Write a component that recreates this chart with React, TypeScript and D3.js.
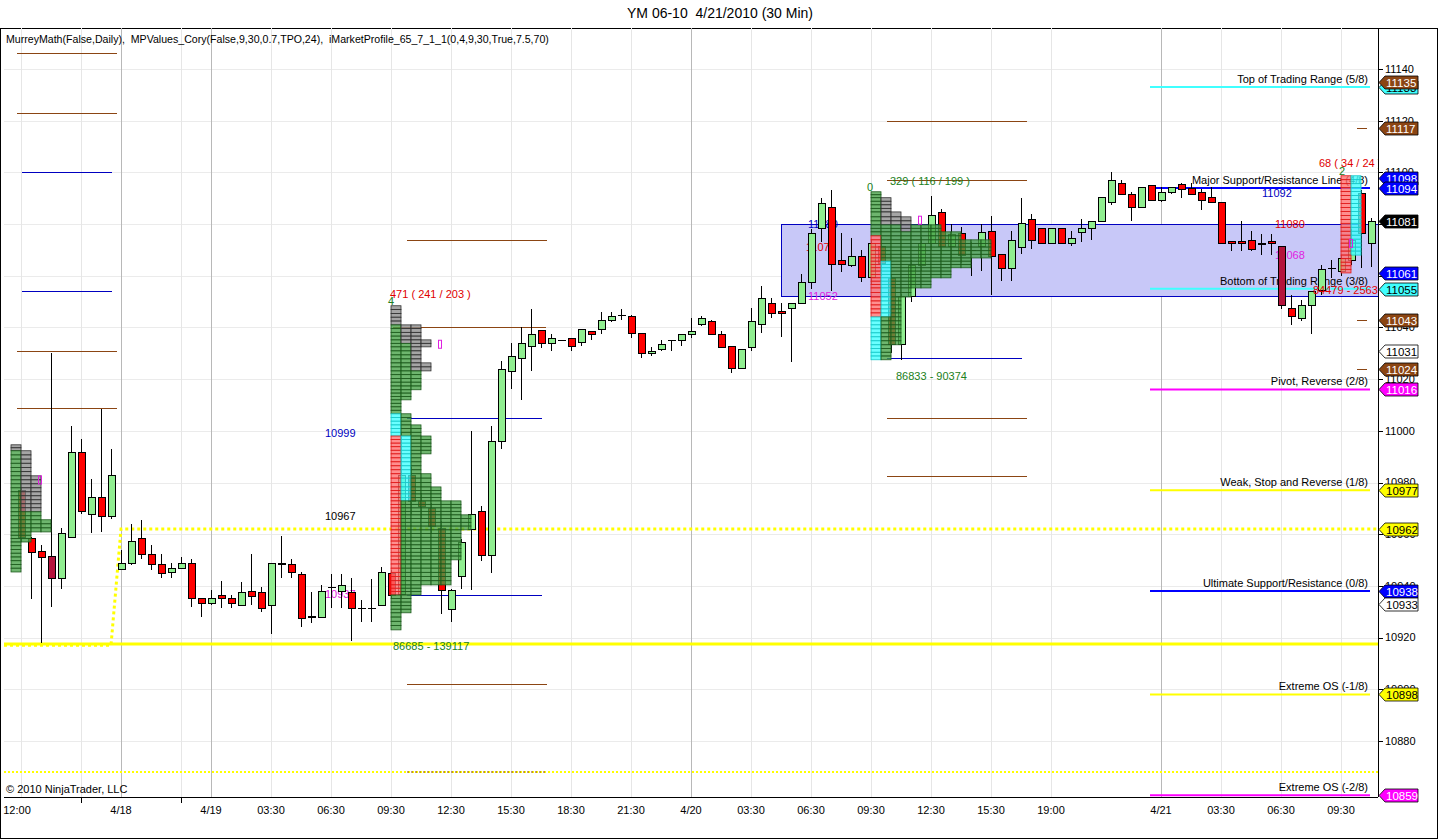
import React from "react";
import * as d3 from "d3";

/* DATA */
// 30 min bars: [open, high, low, close]
const bars: number[][] = [
  [10977, 10978, 10957, 10959], [10958.5, 10959, 10935, 10953], [10953.5, 10956, 10918, 10951],
  [10951.5, 11030, 10932, 10943], [10943, 10962.5, 10939, 10960.5], [10959, 11002, 10958.5, 10992],
  [10992, 10997, 10968, 10969], [10968, 10981.5, 10960.5, 10974.5], [10974.5, 11008.5, 10961, 10967],
  [10967, 10993, 10966, 10983], [10946.5, 10954, 10946, 10949], [10949, 10964, 10948, 10957.5],
  [10958.5, 10965.5, 10950.5, 10952.5], [10952.5, 10956, 10946, 10948.5], [10948.5, 10952.5, 10943, 10945],
  [10945.5, 10949, 10943, 10947], [10947, 10951, 10946.5, 10949], [10949, 10950.5, 10932, 10935.5],
  [10935.5, 10935.5, 10928, 10933.5], [10933.5, 10938.5, 10932.5, 10935.5], [10936.5, 10942, 10931.5, 10935.5],
  [10935.5, 10936.5, 10931.5, 10933.5], [10932.5, 10941.5, 10932.5, 10937.5], [10938, 10952.5, 10932.5, 10936],
  [10937.5, 10939.5, 10930, 10931.5], [10932.5, 10949, 10921.5, 10949], [10949, 10959.5, 10943, 10948.5],
  [10948.5, 10950.5, 10943, 10945.5], [10944.5, 10945.5, 10924, 10927.5], [10928.5, 10937.5, 10925.5, 10928],
  [10928, 10940.5, 10927.5, 10938], [10939.5, 10944.5, 10931.5, 10939.5], [10938, 10944.5, 10931.5, 10940.5],
  [10937.5, 10943, 10918.5, 10931.5], [10931.5, 10934.5, 10926, 10931.5], [10931.5, 10942.5, 10926, 10931.5],
  [10932.5, 10947.5, 10932.5, 10945.5], [10945, 10946, 10935, 10936.5], [10937, 10999, 10935, 10983],
  [10983, 10986, 10968, 10973], [10973, 10976, 10966, 10971], [10970, 10972, 10960, 10963],
  [10962.5, 10965, 10929, 10938.5], [10931, 10939, 10926, 10938.5], [10944, 10958, 10939, 10957],
  [10962, 11000, 10938.5, 10968], [10969, 10971, 10949.5, 10952], [10952, 11002, 10945, 10996],
  [10996, 11027, 10993, 11024], [11023, 11034, 11016, 11029], [11028, 11040, 11012, 11034],
  [11033, 11047, 11023, 11037.5], [11039, 11039, 11032, 11034], [11034, 11037.5, 11031, 11036],
  [11035, 11035, 11035, 11035], [11036, 11036, 11031, 11033], [11034.5, 11039.5, 11033, 11039.5],
  [11038.5, 11038.5, 11035, 11037.5], [11039.5, 11046, 11037.5, 11043], [11043, 11046, 11042, 11044.5],
  [11045, 11047, 11043, 11045], [11044.5, 11045, 11036, 11038], [11038, 11038, 11028, 11030],
  [11030, 11032.5, 11029, 11031], [11031.5, 11035, 11031, 11033.5], [11035, 11035, 11031, 11035],
  [11035, 11037.5, 11033, 11037.5], [11037.5, 11043.5, 11036, 11038.5], [11041.5, 11044.5, 11040.5, 11043.5],
  [11042.5, 11043, 11037, 11037.5], [11037.5, 11038.5, 11032, 11032.5], [11033, 11033, 11022.5, 11024.5],
  [11024.5, 11031.5, 11024.5, 11031.5], [11032.5, 11047.5, 11031, 11042.5], [11041.5, 11056, 11038, 11051.5],
  [11049.5, 11051.5, 11043.5, 11045.5], [11046.5, 11049.5, 11036.5, 11045.5], [11047.5, 11049.5, 11026.5, 11049.5],
  [11049.5, 11060.5, 11049, 11057.5], [11057.5, 11078, 11055, 11076.5], [11078.5, 11090, 11073, 11088],
  [11086.5, 11093, 11054, 11064.5], [11066, 11076.5, 11061.5, 11064.5], [11064, 11074.5, 11063.5, 11067.5],
  [11067.5, 11070, 11057.5, 11059.5], [11059.5, 11074, 11057, 11072.5], [11071.5, 11075, 11060, 11065],
  [11059, 11060.5, 11030, 11033.5], [11033.5, 11053, 11027.5, 11052], [11052, 11066, 11050, 11064],
  [11064, 11075, 11062, 11072.5], [11072.5, 11091, 11070, 11083.5], [11084.5, 11086, 11068, 11071.5],
  [11071.5, 11080, 11066, 11076], [11076.5, 11079, 11065, 11068], [11070, 11073, 11060, 11070],
  [11071.5, 11080, 11062, 11077], [11077.5, 11083, 11052.5, 11067.5], [11068.5, 11068.5, 11058, 11063],
  [11063, 11077.5, 11058, 11074], [11071, 11090, 11068.5, 11080.5], [11082, 11084, 11070.5, 11074],
  [11078.5, 11078.5, 11072.5, 11072.5], [11072.5, 11078.5, 11072.5, 11078.5], [11078.5, 11078.5, 11072.5, 11072.5],
  [11072.5, 11077.5, 11071.5, 11074.5], [11077, 11082, 11073, 11078.5], [11078.5, 11081, 11074, 11081],
  [11081, 11090.5, 11081, 11090.5], [11088.5, 11100, 11087.5, 11097], [11096, 11097, 11091.5, 11091.5],
  [11091.5, 11092.5, 11081, 11086.5], [11086.5, 11094.5, 11086.5, 11094.5], [11095, 11095, 11089.5, 11089.5],
  [11089.5, 11094.5, 11088.5, 11092.5], [11092.5, 11094.5, 11091.5, 11094.5], [11095.5, 11096, 11090, 11093.5],
  [11094, 11096, 11091.5, 11091.5], [11092.5, 11093.5, 11085.5, 11089.5], [11090.5, 11094.5, 11088.5, 11088.5],
  [11088.5, 11088.5, 11072.5, 11072.5], [11073.5, 11073.5, 11069.5, 11072.5], [11073.5, 11081, 11069.5, 11072.5],
  [11074, 11077.5, 11069.5, 11070.5], [11072.5, 11076, 11068, 11072.8], [11073.5, 11076, 11068, 11072.5],
  [11071.5, 11071.5, 11047, 11048.5], [11047.5, 11052.5, 11041, 11044.5], [11043.5, 11050.5, 11042.5, 11048.5],
  [11048.5, 11054, 11037.5, 11054], [11054.5, 11064, 11052.5, 11062.5], [11063, 11066, 11059, 11063],
  [11062, 11068, 11060, 11067], [11066, 11078, 11064, 11074], [11092, 11093, 11063, 11076.5],
  [11072.5, 11082.5, 11063.5, 11081],
];
const darkRedBars = [3, 126];

const xLabels: [number, string][] = [
  [0, "12:00"], [10, "4/18"], [19, "4/19"], [25, "03:30"], [31, "06:30"], [37, "09:30"],
  [43, "12:30"], [49, "15:30"], [55, "18:30"], [61, "21:30"], [67, "4/20"], [73, "03:30"],
  [79, "06:30"], [85, "09:30"], [91, "12:30"], [97, "15:30"], [103, "19:00"], [114, "4/21"],
  [120, "03:30"], [126, "06:30"], [132, "09:30"],
];
const dayStarts = [10, 19, 67, 114];
const minorTicks = [6, 16];
const yTicks = d3.range(10880, 11141, 20);

// daily lines: [fromBar, toBar, price, color]
const dayLines: [number, number, number, string][] = [
  [-0.4, 9.6, 11146, "brown"], [-0.4, 9.6, 11123, "brown"], [0.1, 9.1, 11100, "blue"],
  [0.1, 9.1, 11054, "blue"], [-0.4, 9.6, 11031, "brown"], [-0.4, 9.6, 11009, "brown"],
  [38.6, 52.6, 11074, "brown"], [37.2, 52.5, 11040, "brown"], [38.6, 52.1, 11005, "blue"],
  [38.6, 52.1, 10936.5, "blue"], [38.6, 52.6, 10902, "brown"],
  [86.6, 100.6, 11120, "brown"], [86.6, 100.6, 11097, "brown"], [86.6, 100.1, 11028, "blue"],
  [86.6, 100.6, 11005, "brown"], [86.6, 100.6, 10982.6, "brown"],
  [133.6, 134.6, 11117, "brown"], [133.6, 134.6, 11043, "brown"], [133.6, 134.6, 11024, "brown"],
];
const lineColors: Record<string, string> = { brown: "#8b4513", blue: "#0000c0" };

// MurreyMath levels for 4/21
const murrey: [number, string, string][] = [
  [11133, "#40ffff", "Top of Trading Range (5/8)"],
  [11094, "#0000ff", "Major Support/Resistance Line (4/8)"],
  [11055, "#40ffff", "Bottom of Trading Range (3/8)"],
  [11016, "#ff00ff", "Pivot, Reverse (2/8)"],
  [10977, "#ffff00", "Weak, Stop and Reverse (1/8)"],
  [10938, "#0000ff", "Ultimate Support/Resistance (0/8)"],
  [10898, "#ffff00", "Extreme OS (-1/8)"],
  [10859, "#ff00ff", "Extreme OS (-2/8)"],
];
const murreyFrom = 112.9;
const murreyTo = 134.9;

const pivotSteps = [
  { from: 0, to: 9, value: 10917 },
  { from: 10, to: 135, value: 10962 },
];
const solidYellow = 10917.5;
const dottedYellow = 10868;
const valueArea = { from: 76, top: 11080, bottom: 11052 };

// MPValues labels: [bar, price, text, color]
const mpLabels: [number, number, string, string][] = [
  [30.4, 10999, "10999", "#0000c0"], [30.4, 10967, "10967", "#000000"], [30.4, 10937, "10937", "#e020e0"],
  [78.7, 11080, "11080", "#0000c0"], [78.5, 11071, "11071", "#e00000"], [78.7, 11052, "11052", "#e020e0"],
  [124.1, 11092, "11092", "#0000c0"], [125.4, 11080, "11080", "#e00000"], [125.4, 11068, "11068", "#e020e0"],
];

// market profiles: start bar, rows [hi, lo, columns], coloured cells [col, lo, hi, kind]
const profiles = [
  {
    start: -1,
    rows: [[10994.6, 10992.3, 1], [10992.3, 10982.6, 2], [10982.6, 10965.6, 3], [10965.6, 10960.9, 4], [10960.9, 10957, 2], [10957, 10945.4, 1]],
    marks: [[0, 10992.3, 10994.6, "gray"], [1, 10968.3, 10992.3, "gray"], [2, 10968.3, 10982.6, "gray"]],
  },
  {
    start: 37,
    rows: [
      [11048.4, 11041, 1], [11041, 11035.2, 3], [11035.2, 11032.5, 4], [11032.5, 11026.3, 3], [11026.3, 11023.2, 4],
      [11023.2, 11015.9, 3], [11015.9, 11012, 2], [11012, 11006.6, 1], [11006.6, 11002.3, 2], [11002.3, 10998, 3],
      [10998, 10991.1, 4], [10991.1, 10983.4, 3], [10983.4, 10978.3, 4], [10978.3, 10972.9, 5], [10972.9, 10967.5, 7],
      [10967.5, 10961.7, 8], [10961.7, 10950.1, 7], [10950.1, 10940.4, 6], [10940.4, 10936.5, 3], [10936.5, 10929.6, 2],
      [10929.6, 10923, 1],
    ],
    marks: [
      [0, 11041, 11048.4, "gray"], [1, 11033.3, 11041, "gray"], [2, 11023.2, 11041, "gray"],
      [3, 11032.5, 11035.2, "gray"], [3, 11023.2, 11026.3, "gray"],
      [0, 10936.5, 10998, "red"], [0, 10998, 11006.6, "cyan"], [1, 10973, 10998, "cyan"],
    ],
  },
  {
    start: 85,
    rows: [
      [11092.5, 11090.2, 1], [11090.2, 11084.7, 2], [11084.7, 11082.8, 3], [11082.8, 11079.7, 4], [11079.7, 11077, 7],
      [11077, 11073.9, 9], [11073.9, 11066.9, 12], [11066.9, 11063.1, 10], [11063.1, 11059.2, 8], [11059.2, 11055.3, 6],
      [11055.3, 11051.8, 4], [11051.8, 11033.3, 3], [11033.3, 11027.5, 2],
    ],
    marks: [
      [1, 11079.7, 11090.2, "gray"], [2, 11079.7, 11084.7, "gray"], [3, 11077, 11082.8, "gray"],
      [0, 11043.7, 11075, "red"], [0, 11027.5, 11043.7, "cyan"], [1, 11043.7, 11065, "cyan"],
    ],
  },
  {
    start: 132,
    rows: [[11098.7, 11068, 2], [11068, 11061.1, 1]],
    marks: [[0, 11061.1, 11098.7, "red"], [1, 11068, 11098.7, "cyan"]],
  },
];
const tpoTick = 1.5;
const cellStyle: Record<string, [string, string]> = {
  green: ["#45a045", "#1d5a1d"],
  gray: ["#8c8c8c", "#303030"],
  red: ["#ff7070", "#e01818"],
  cyan: ["#40ffff", "#18c8c8"],
};

const profileMarkers: [number, number][] = [[1.9, 10981], [41.9, 11033.5], [89.9, 11081.5], [133, 11072.5]];

// profile text: [bar, price, text, color]
const profileTexts: [number, number, string, string][] = [
  [36.7, 11050.3, "4", "#208020"], [36.9, 11053, "471 ( 241 / 203 )", "#e00000"],
  [37.2, 10916.8, "86685 - 139117", "#208020"],
  [84.6, 11094.4, "0", "#208020"], [86.9, 11096.7, "329 ( 116 / 199 )", "#208020"],
  [87.5, 11021, "86833 - 90374", "#208020"],
  [131.8, 11100.6, "2", "#208020"], [129.8, 11103.7, "68 ( 34 / 24 )", "#e00000"],
  [129.2, 11054.6, "84479 - 25635", "#e00000"],
];

// price markers on the right axis: [price, fill, text colour]
const tags: [number, string, string][] = [
  [11133, "#40ffff", "#000"], [11135, "#8b4513", "#fff"], [11117, "#8b4513", "#fff"],
  [11098, "#0000ff", "#fff"], [11094, "#0000ff", "#fff"], [11081, "#000000", "#fff"],
  [11061, "#0000ff", "#fff"], [11055, "#40ffff", "#000"], [11043, "#8b4513", "#fff"],
  [11031, "#ffffff", "#000"], [11024, "#8b4513", "#fff"], [11016, "#ff00ff", "#fff"],
  [10977, "#ffff00", "#000"], [10962, "#ffff00", "#000"], [10938, "#0000ff", "#fff"],
  [10933, "#ffffff", "#000"], [10898, "#ffff00", "#000"], [10859, "#ff00ff", "#fff"],
];

/* LAYOUT */
const plot = { left: 4, right: 1378, top: 28, bottom: 797 };
const font = "'Liberation Sans', Arial, sans-serif";

const x = d3.scaleLinear().domain([0, 135]).range([21, 1371]);
const y = d3.scaleLinear().domain([10880, 11140]).range([741, 69]);
const px = (v: number) => Math.round(v) + 0.5;

function Candles() {
  return (
    <g shapeRendering="crispEdges">
      {bars.map(([o, h, l, c], i) => {
        const cx = px(x(i));
        const top = Math.round(y(Math.max(o, c)));
        const bot = Math.round(y(Math.min(o, c)));
        const fill = c > o ? "#90ee90" : darkRedBars.includes(i) ? "#b4143c" : "#ff0000";
        return (
          <g key={i}>
            <line x1={cx} x2={cx} y1={y(h)} y2={y(l)} stroke="#000" />
            {o === c ? (
              <line x1={cx - 4} x2={cx + 4} y1={top + 0.5} y2={top + 0.5} stroke="#000" />
            ) : (
              <rect x={cx - 3.5} y={top + 0.5} width={7} height={Math.max(bot - top, 1)} fill={fill} stroke="#000" />
            )}
          </g>
        );
      })}
    </g>
  );
}

function Profiles() {
  const cells: JSX.Element[] = [];
  profiles.forEach((p, pi) => {
    p.rows.forEach(([hi, lo, cols], ri) => {
      const n = Math.max(1, Math.round((hi - lo) / tpoTick));
      const step = (hi - lo) / n;
      for (let k = 0; k < n; k++) {
        const cHi = hi - k * step;
        const cLo = cHi - step;
        const mid = (cHi + cLo) / 2;
        for (let col = 0; col < cols; col++) {
          const mark = p.marks.find((m) => m[0] === col && mid >= m[1] && mid <= m[2]);
          const kind = mark ? (mark[3] as string) : "green";
          const [f, s] = cellStyle[kind];
          const x0 = x(p.start + col);
          cells.push(
            <rect
              key={`${pi}-${ri}-${k}-${col}`}
              x={x0}
              y={y(cHi)}
              width={x(p.start + col + 1) - x0}
              height={y(cLo) - y(cHi)}
              fill={f}
              fillOpacity={0.78}
              stroke={s}
              strokeWidth={0.8}
            />
          );
        }
      }
    });
  });
  return <g>{cells}</g>;
}

export default function App() {
  const pivotPts: [number, number][] = [];
  pivotSteps.forEach((s, k) => {
    pivotPts.push([k === 0 ? plot.left : x(s.from), y(s.value)]);
    pivotPts.push([k === pivotSteps.length - 1 ? plot.right : x(s.to), y(s.value)]);
  });
  const pivotPath = d3.line()(pivotPts) as string;

  return (
    <svg width={1440} height={840} style={{ display: "block", background: "#fff", fontFamily: font }}>
      <style>{"body{margin:0}"}</style>
      <defs>
        <clipPath id="plotClip">
          <rect x={plot.left} y={plot.top} width={plot.right - plot.left} height={plot.bottom - plot.top} />
        </clipPath>
      </defs>

      <text x={720} y={18} textAnchor="middle" fontSize={14} style={{ whiteSpace: "pre" }}>
        {"YM 06-10  4/21/2010 (30 Min)"}
      </text>
      <rect x={0.5} y={28.5} width={1437} height={810} fill="#fff" stroke="#000" />

      <g clipPath="url(#plotClip)">
        {/* grid */}
        <g shapeRendering="crispEdges">
          {yTicks.map((t) => (
            <line key={t} x1={plot.left} x2={plot.right} y1={px(y(t))} y2={px(y(t))} stroke="#ebebeb" />
          ))}
          {[...xLabels.map((d) => d[0]), ...minorTicks].map((b) => (
            <line
              key={b}
              x1={px(x(b))}
              x2={px(x(b))}
              y1={plot.top}
              y2={plot.bottom}
              stroke={dayStarts.includes(b) ? "#b8b8b8" : "#e6e6e6"}
            />
          ))}
        </g>

        {/* value area box */}
        <rect
          x={px(x(valueArea.from))}
          y={px(y(valueArea.top))}
          width={plot.right - x(valueArea.from)}
          height={y(valueArea.bottom) - y(valueArea.top)}
          fill="#c8c8f8"
          stroke="#0000c0"
          shapeRendering="crispEdges"
        />

        {/* long yellow lines */}
        <line x1={plot.left} x2={plot.right} y1={y(solidYellow)} y2={y(solidYellow)} stroke="#ffff00" strokeWidth={3} />
        <path d={pivotPath} fill="none" stroke="#ffff00" strokeWidth={3} strokeDasharray="3 3" />
        <line x1={plot.left} x2={plot.right} y1={y(dottedYellow)} y2={y(dottedYellow)} stroke="#ffff00" strokeWidth={2} strokeDasharray="2 2" />
        <line x1={x(38.6)} x2={x(52.6)} y1={y(dottedYellow)} y2={y(dottedYellow)} stroke="#8b4513" strokeWidth={1} strokeDasharray="2 2" />

        {/* daily levels */}
        <g shapeRendering="crispEdges">
          {dayLines.map(([a, b, p, c], i) => (
            <line key={i} x1={x(a)} x2={x(b)} y1={px(y(p))} y2={px(y(p))} stroke={lineColors[c]} />
          ))}
        </g>
        {murrey.map(([p, c, label]) => (
          <g key={label}>
            <line x1={x(murreyFrom)} x2={x(murreyTo)} y1={y(p)} y2={y(p)} stroke={c} strokeWidth={2} />
            <text x={x(murreyTo) - 2} y={y(p) - 4} textAnchor="end" fontSize={11}>
              {label}
            </text>
          </g>
        ))}
        {mpLabels.map(([b, p, t, c], i) => (
          <text key={i} x={x(b)} y={y(p)} dy="0.35em" fontSize={11} fill={c}>
            {t}
          </text>
        ))}

        <Candles />
        <Profiles />

        {profileMarkers.map(([b, p], i) => (
          <rect key={i} x={x(b) - 1.5} y={y(p) - 4} width={3} height={8} fill="none" stroke="#e020e0" />
        ))}
        {profileTexts.map(([b, p, t, c], i) => (
          <text key={i} x={x(b)} y={y(p)} dy="0.35em" fontSize={11} fill={c}>
            {t}
          </text>
        ))}

        <text x={6} y={43} fontSize={10.6} style={{ whiteSpace: "pre" }}>
          {"MurreyMath(False,Daily),  MPValues_Cory(False,9,30,0.7,TPO,24),  iMarketProfile_65_7_1_1(0,4,9,30,True,7.5,70)"}
        </text>
        <text x={6} y={793} fontSize={11}>
          © 2010 NinjaTrader, LLC
        </text>
      </g>

      {/* axes */}
      <g shapeRendering="crispEdges">
        <line x1={plot.left} x2={plot.right} y1={plot.bottom + 0.5} y2={plot.bottom + 0.5} stroke="#000" />
        <line x1={plot.right + 0.5} x2={plot.right + 0.5} y1={plot.top} y2={plot.bottom} stroke="#000" />
        {minorTicks.map((b) => (
          <line key={b} x1={px(x(b))} x2={px(x(b))} y1={plot.bottom} y2={plot.bottom + 6} stroke="#000" />
        ))}
        {yTicks.map((t) => (
          <line key={t} x1={plot.right} x2={plot.right + 5} y1={px(y(t))} y2={px(y(t))} stroke="#000" />
        ))}
      </g>
      {xLabels.map(([b, t]) => (
        <text key={b} x={b === 0 ? x(b) - 4 : x(b)} y={814} textAnchor="middle" fontSize={11}>
          {t}
        </text>
      ))}
      {yTicks.map((t) => (
        <text key={t} x={plot.right + 7} y={y(t)} dy="0.35em" fontSize={11}>
          {t}
        </text>
      ))}

      {/* price tags */}
      {tags.map(([p, f, tc], i) => {
        const yy = Math.round(y(p)) + 0.5;
        const l = plot.right + 1;
        return (
          <g key={i}>
            <path
              d={`M${l},${yy} L${l + 6},${yy - 6.5} L${l + 39},${yy - 6.5} L${l + 39},${yy + 6.5} L${l + 6},${yy + 6.5} Z`}
              fill={f}
              stroke="#000"
              strokeWidth={0.8}
            />
            <text x={l + 7} y={yy} dy="0.36em" fontSize={11.5} fill={tc}>
              {p}
            </text>
          </g>
        );
      })}
    </svg>
  );
}
